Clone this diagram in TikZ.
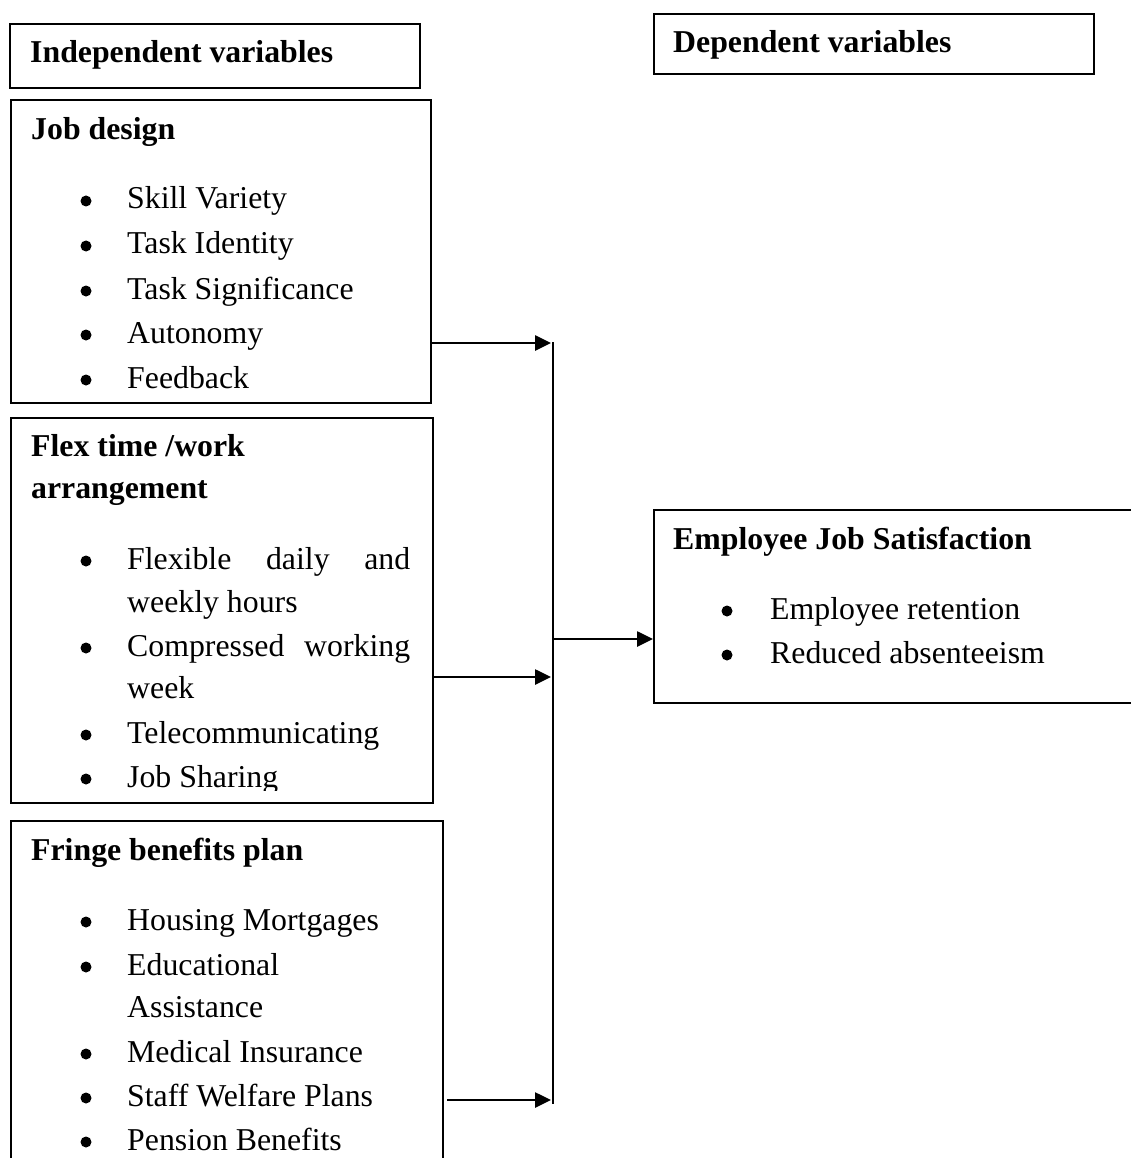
\documentclass[tikz,border=0pt]{standalone}
\usepackage{fontspec}
\setmainfont{Liberation Serif}
\usetikzlibrary{arrows.meta}
\begin{document}
\begin{tikzpicture}[x=1pt,y=-1pt,
  box/.style={draw, line width=2pt, rectangle, inner sep=0pt, anchor=north west},
  txt/.style={anchor=base west, inner sep=0pt, font=\fontsize{31.8pt}{38pt}\selectfont},
  hd/.style={anchor=base west, inner sep=0pt, font=\fontsize{31.8pt}{38pt}\selectfont\bfseries},
  arr/.style={line width=2.6pt, -{Triangle[length=16pt,width=15pt]}},
  conn/.style={line width=2.4pt},
  bul/.style={circle, fill, inner sep=0pt, minimum size=11pt}]
\useasboundingbox (0,0) rectangle (1131,1158);
% boxes
\node[box, minimum width=410pt, minimum height=64pt] (iv) at (9,23) {};
\node[box, minimum width=440pt, minimum height=60pt] (dv) at (653,13) {};
\node[box, minimum width=420pt, minimum height=303pt] (jd) at (10,99) {};
\node[box, minimum width=422pt, minimum height=385pt] (ft) at (10,417) {};
\node[box, minimum width=432pt, minimum height=420pt] (fb) at (10,820) {};
\node[box, minimum width=540pt, minimum height=193pt] (ejs) at (653,509) {};
% headers
\node[hd] (ivt) at (30,63) {Independent variables};
\node[hd] (dvt) at (673,53) {Dependent variables};
\node[hd] (jdt) at (31,140) {Job design};
\node[hd] (ftt1) at (31,456) {Flex time /work};
\node[hd] (ftt2) at (31,498) {arrangement};
\node[hd] (fbt) at (31,860) {Fringe benefits plan};
\node[hd] (ejst) at (673,549) {Employee Job Satisfaction};
% job design items
\node[bul] (jb1) at (86,201) {}; \node[txt] (j1) at (127,209) {Skill Variety};
\node[bul] (jb2) at (86,246) {}; \node[txt] (j2) at (127,254) {Task Identity};
\node[bul] (jb3) at (86,291) {}; \node[txt] (j3) at (127,299) {Task Significance};
\node[bul] (jb4) at (86,335) {}; \node[txt] (j4) at (127,343) {Autonomy};
\node[bul] (jb5) at (86,380) {}; \node[txt] (j5) at (127,388) {Feedback};
% flex items
\node[bul] (fb1) at (86,561) {}; \node[txt] (f1) at (127,569) {\makebox[283pt][s]{Flexible daily and}};
\node[txt] (f1b) at (127,612) {weekly hours};
\node[bul] (fb2) at (86,648) {}; \node[txt] (f2) at (127,656) {\makebox[283pt][s]{Compressed working}};
\node[txt] (f2b) at (127,698) {week};
\node[bul] (fb3) at (86,735) {}; \node[txt] (f3) at (127,743) {Telecommunicating};
\node[bul] (fb4) at (86,779) {};
\begin{scope}
\clip (0,0) rectangle (1131,790);
\node[txt] (f4) at (127,787) {Job Sharing};
\end{scope}
% fringe items
\node[bul] (gb1) at (86,922) {}; \node[txt] (g1) at (127,930) {Housing Mortgages};
\node[bul] (gb2) at (86,967) {}; \node[txt] (g2) at (127,975) {Educational};
\node[txt] (g2b) at (127,1017) {Assistance};
\node[bul] (gb3) at (86,1054) {}; \node[txt] (g3) at (127,1062) {Medical Insurance};
\node[bul] (gb4) at (86,1098) {}; \node[txt] (g4) at (127,1106) {Staff Welfare Plans};
\node[bul] (gb5) at (86,1142) {}; \node[txt] (g5) at (127,1150) {Pension Benefits};
% dependent items
\node[bul] (eb1) at (727,611) {}; \node[txt] (e1) at (770,619) {Employee retention};
\node[bul] (eb2) at (727,655) {}; \node[txt] (e2) at (770,663) {Reduced absenteeism};
% connectors
\coordinate (vtop) at (553,342);
\coordinate (vbot) at (553,1104);
\coordinate (ya) at (551,343);
\coordinate (yb) at (551,677);
\coordinate (yc) at (551,1100);
\coordinate (ye) at (553,639);
\draw[conn] (vtop) -- (vbot);
\draw[arr] (jd.east |- ya) -- (ya);
\draw[arr] (ft.east |- yb) -- (yb);
\draw[arr] ([xshift=3pt]fb.east |- yc) -- (yc);
\draw[arr] (ye) -- (ejs.west |- ye);
\end{tikzpicture}
\end{document}
